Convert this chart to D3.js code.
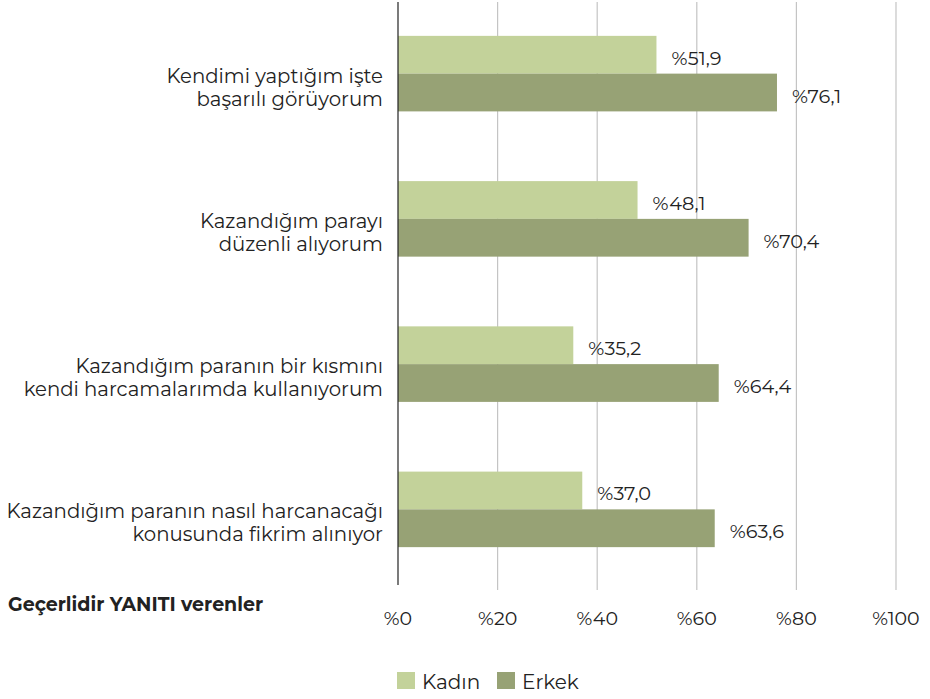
<!DOCTYPE html>
<html>
<head>
<meta charset="utf-8">
<script src="https://cdn.jsdelivr.net/npm/d3@7"></script>
<style>
  body { margin: 0; background: #fff; }
  svg text { font-family: "Montserrat", "Noto Sans", "DejaVu Sans", sans-serif; fill: #222; }
</style>
</head>
<body>
<div id="chart"></div>
<script>
// data
var categories = [
    ["Kendimi yaptığım işte", "başarılı görüyorum"],
    ["Kazandığım parayı", "düzenli alıyorum"],
    ["Kazandığım paranın bir kısmını", "kendi harcamalarımda kullanıyorum"],
    ["Kazandığım paranın nasıl harcanacağı", "konusunda fikrim alınıyor"]
];
var seriesNames = ["Kadın", "Erkek"];
var kadin = [51.9, 48.1, 35.2, 37.0];
var erkek = [76.1, 70.4, 64.4, 63.6];
var tickValues = [0, 20, 40, 60, 80, 100];
var colors = ["#c3d29a", "#97a275"];

var width = 930, height = 699;
var margin = { left: 398, right: 34, top: 1, bottom: 116 };

var svg = d3.select("#chart").append("svg")
    .attr("width", width)
    .attr("height", height);

var x = d3.scaleLinear()
    .domain([0, 100])
    .range([margin.left, width - margin.right]);

var y = d3.scaleBand()
    .domain(d3.range(categories.length))
    .range([margin.top, height - margin.bottom - 1])
    .paddingInner(0.48)
    .paddingOuter(0.24);

var ySub = d3.scaleBand()
    .domain([0, 1])
    .range([0, y.bandwidth()]);

// gridlines
svg.append("g")
    .selectAll("line")
    .data(tickValues.slice(1))
    .join("line")
    .attr("x1", d => x(d)).attr("x2", d => x(d))
    .attr("y1", 2).attr("y2", 590)
    .attr("stroke", "#c4c4c4")
    .attr("stroke-width", 1.2);

// bars
var rows = categories.map((c, i) => ({ i: i, vals: [kadin[i], erkek[i]] }));

var groups = svg.append("g")
    .selectAll("g")
    .data(rows)
    .join("g")
    .attr("transform", d => "translate(0," + y(d.i) + ")");

groups.selectAll("rect")
    .data(d => d.vals.map((v, s) => ({ v: v, s: s })))
    .join("rect")
    .attr("x", x(0))
    .attr("y", d => ySub(d.s))
    .attr("width", d => x(d.v) - x(0))
    .attr("height", ySub.bandwidth())
    .attr("fill", d => colors[d.s]);

var fmt = v => "%" + v.toFixed(1).replace(".", ",");

groups.selectAll("text.val")
    .data(d => d.vals.map((v, s) => ({ v: v, s: s })))
    .join("text")
    .attr("class", "val")
    .attr("x", d => x(d.v) + 15)
    .attr("y", d => ySub(d.s) + ySub.bandwidth() / 2 + 10)
    .style("font-size", "19.3px")
    .text(d => fmt(d.v));

// category labels
groups.append("text")
    .attr("text-anchor", "end")
    .attr("x", 383)
    .attr("y", y.bandwidth() / 2 + 9)
    .style("font-size", "19.7px")
    .selectAll("tspan")
    .data(d => categories[d.i])
    .join("tspan")
    .attr("x", 383)
    .attr("dy", (d, i) => i === 0 ? 0 : 23)
    .text(d => d);

// axis line at zero
svg.append("line")
    .attr("x1", x(0)).attr("x2", x(0))
    .attr("y1", 2).attr("y2", 585)
    .attr("stroke", "#222")
    .attr("stroke-width", 1.2);

// x axis labels
svg.append("g")
    .selectAll("text")
    .data(tickValues)
    .join("text")
    .attr("x", d => x(d))
    .attr("y", 625)
    .attr("text-anchor", "middle")
    .style("font-size", "19px")
    .text(d => "%" + d);

svg.append("text")
    .attr("x", 8)
    .attr("y", 611)
    .style("font-size", "19px")
    .style("font-weight", "bold")
    .text("Geçerlidir YANITI verenler");

// legend
var legendX = [397, 497];
var legend = svg.append("g")
    .selectAll("g")
    .data(seriesNames)
    .join("g")
    .attr("transform", (d, i) => "translate(" + legendX[i] + ",672)");

legend.append("rect")
    .attr("width", 18).attr("height", 17)
    .attr("fill", (d, i) => colors[i]);

legend.append("text")
    .attr("x", 25)
    .attr("y", 17)
    .style("font-size", "20px")
    .text(d => d);
</script>
</body>
</html>
